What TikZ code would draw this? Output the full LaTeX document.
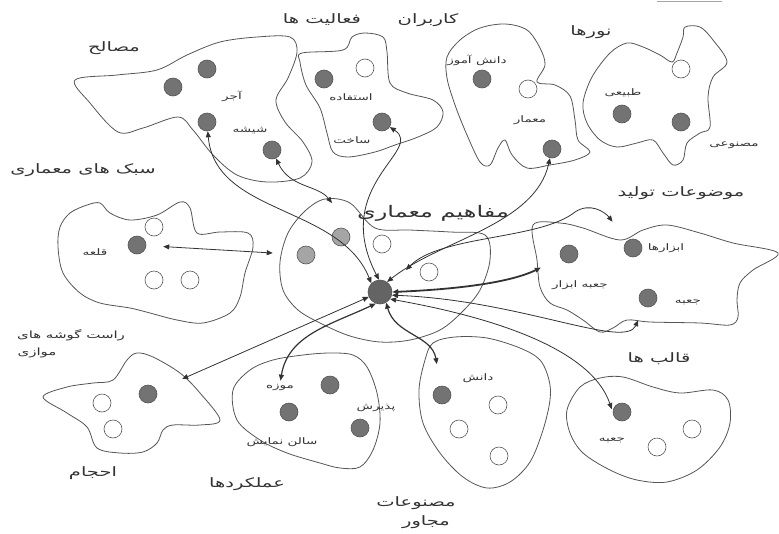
\documentclass[tikz,border=0pt]{standalone}
\usepackage{fontspec}
\usepackage{tikz}
\usetikzlibrary{arrows.meta}
\newfontfamily\farsi[Script=Arabic, FakeStretch=1.5]{DejaVu Sans}
\TeXXeTstate=1
\newcommand{\fa}[1]{{\farsi\beginR #1\endR}}
\definecolor{Gris}{RGB}{115, 115, 115}
\definecolor{GrisClaro}{RGB}{165, 165, 165}
\definecolor{GrisHub}{RGB}{100, 100, 100}
\definecolor{Linea}{RGB}{50, 50, 50}
\definecolor{Borde}{RGB}{85, 85, 85}

\begin{document}
\begin{tikzpicture}[x=1pt, y=-1pt,
    blob/.style={draw=Borde, line width=0.8pt},
    lleno/.style={circle, draw=Borde, fill=Gris, minimum size=18pt, inner sep=0pt, line width=0.6pt},
    claro/.style={lleno, fill=GrisClaro},
    vacio/.style={lleno, fill=white},
    chico/.style={font=\fontsize{9}{10}\selectfont, text=Linea, inner sep=1pt},
    grupo/.style={font=\fontsize{13}{14}\selectfont, text=Linea, inner sep=1pt},
    enlace/.style={draw=Linea, line width=0.8pt, {Triangle[length=6pt,width=5pt]}-{Triangle[length=6pt,width=5pt]}},
    medio/.style={enlace, line width=1.2pt},
    grueso/.style={enlace, line width=1.8pt}
  ]
  \useasboundingbox (0,0) rectangle (779,533);
  \draw[GrisClaro, line width=1pt] (657,1) -- (722,1);

  %Contornos
  \draw[blob] plot[smooth cycle, tension=0.55] coordinates {(75,80) (117,75) (157,70) (187,55) (220,42) (257,37) (290,37) (297,52) (288,78) (276,100) (285,122) (303,142) (312,162) (300,178) (267,182) (237,175) (213,155) (193,130) (178,117) (143,128) (118,132) (90,103)};
  \draw[blob] plot[smooth cycle, tension=0.55] coordinates {(302,53) (343,50) (352,37) (365,33) (383,37) (387,52) (390,83) (407,93) (433,100) (443,112) (437,127) (418,137) (395,145) (375,152) (348,157) (333,152) (327,133) (320,108) (306,85) (300,62)};
  \draw[blob] plot[smooth cycle, tension=0.55] coordinates {(447,57) (460,40) (480,28) (505,24) (527,30) (540,48) (545,65) (537,82) (555,85) (570,96) (575,120) (578,140) (590,152) (575,160) (550,165) (527,168) (512,155) (505,140) (498,148) (490,165) (480,162) (467,135) (455,105) (447,78)};
  \draw[blob] plot[smooth cycle, tension=0.55] coordinates {(685,27) (700,27) (713,40) (727,62) (713,77) (708,97) (710,127) (700,133) (687,143) (683,160) (673,165) (663,153) (653,140) (637,143) (617,147) (600,140) (587,123) (583,103) (592,77) (610,53) (627,43) (643,47) (660,55) (672,62) (677,53) (683,37)};
  \draw[blob] plot[smooth cycle, tension=0.55] coordinates {(60,227) (70,213) (87,205) (100,203) (110,213) (130,220) (157,215) (180,202) (190,208) (197,233) (220,232) (248,233) (253,247) (245,273) (240,297) (230,313) (203,323) (177,320) (150,313) (130,308) (100,303) (80,293) (63,273) (58,247)};
  \draw[blob] plot[smooth cycle, tension=0.55] coordinates {(283,290) (280,262) (288,233) (305,211) (325,199) (350,203) (375,228) (410,230) (450,232) (485,235) (490,260) (480,290) (462,312) (440,330) (410,340) (380,342) (350,336) (322,324) (298,310)};
  \draw[blob] plot[smooth cycle, tension=0.55] coordinates {(533,225) (560,223) (583,228) (620,240) (643,230) (667,225) (700,233) (733,243) (778,253) (753,270) (740,283) (737,300) (738,317) (730,325) (700,323) (650,322) (627,320) (613,328) (600,332) (583,320) (567,310) (550,303) (540,287) (537,260)};
  \draw[blob] plot[smooth cycle, tension=0.55] coordinates {(567,410) (580,387) (600,378) (623,377) (653,387) (680,393) (713,390) (728,400) (730,423) (720,447) (697,470) (667,482) (637,480) (610,470) (583,453) (570,433)};
  \draw[blob] plot[smooth cycle, tension=0.55] coordinates {(43,397) (67,387) (93,383) (113,380) (127,360) (137,353) (153,357) (180,373) (200,393) (220,420) (200,425) (173,425) (163,430) (157,443) (143,452) (120,453) (97,448) (87,427) (67,413)};
  \draw[blob] plot[smooth cycle, tension=0.55] coordinates {(233,390) (250,370) (273,360) (303,355) (330,353) (353,355) (367,367) (377,393) (380,423) (373,450) (360,467) (340,468) (320,463) (287,453) (260,440) (237,420)};
  \draw[blob] plot[smooth cycle, tension=0.55] coordinates {(433,343) (455,337) (487,338) (520,348) (540,360) (549,380) (550,400) (543,430) (530,462) (510,482) (487,488) (463,477) (440,453) (423,423) (419,390) (425,360)};

  %Puntos
  \node[lleno] (M1) at (207,69) {};
  \node[lleno] (M2) at (173,87) {};
  \node[lleno] (M3) at (207,122) {};
  \node[lleno] (M4) at (272,150) {};
  \node[lleno] (A1) at (324,79) {};
  \node[vacio] (A2) at (365,68) {};
  \node[lleno] (A3) at (382,122) {};
  \node[lleno] (U1) at (482,79) {};
  \node[vacio] (U2) at (528,89) {};
  \node[lleno] (U3) at (552,149) {};
  \node[vacio] (L1) at (681,69) {};
  \node[lleno] (L2) at (622,114) {};
  \node[lleno] (L3) at (681,122) {};
  \node[vacio] (S1) at (154,227) {};
  \node[lleno] (S2) at (137,245) {};
  \node[vacio] (S3) at (154,280) {};
  \node[vacio] (S4) at (190,280) {};
  \node[claro] (C1) at (341,237) {};
  \node[claro] (C2) at (306,255) {};
  \node[vacio] (C3) at (382,244) {};
  \node[vacio] (C4) at (429,272) {};
  \node[lleno, fill=GrisHub, minimum size=24pt] (H) at (380,292) {};
  \coordinate (Ctop) at (332,203);
  \node[lleno] (T1) at (569,254) {};
  \node[lleno] (T2) at (633,248) {};
  \node[lleno] (T3) at (648,298) {};
  \node[lleno] (F1) at (622,412) {};
  \node[vacio] (F2) at (692,429) {};
  \node[vacio] (F3) at (657,447) {};
  \node[lleno] (V1) at (148,394) {};
  \node[vacio] (V2) at (102,403) {};
  \node[vacio] (V3) at (113,429) {};
  \node[lleno] (K1) at (330,385) {};
  \node[lleno] (K2) at (289,412) {};
  \node[lleno] (K3) at (360,428) {};
  \node[lleno] (D1) at (442,395) {};
  \node[vacio] (D2) at (498,405) {};
  \node[vacio] (D3) at (459,429) {};
  \node[vacio] (D4) at (499,456) {};

  %Textos
  \node[grupo] (g1) at (114,48) {\fa{مصالح}};
  \node[grupo] (g2) at (322,20) {\fa{فعالیت ها}};
  \node[grupo] (g3) at (428,20) {\fa{کاربران}};
  \node[grupo] (g4) at (591,32) {\fa{نورها}};
  \node[chico] (g5) at (734,145) {\fa{مصنوعی}};
  \node[grupo] (g6) at (83,170) {\fa{سبک های معماری}};
  \node[grupo, font=\fontsize{16}{17}\selectfont] (g7) at (433,213) {\fa{مفاهیم معماری}};
  \node[grupo] (g8) at (681,193) {\fa{موضوعات تولید}};
  \node[chico, font=\fontsize{10}{11}\selectfont] (g9a) at (71,335) {\fa{راست گوشه های}};
  \node[chico, font=\fontsize{10}{11}\selectfont] (g9b) at (37,353) {\fa{موازی}};
  \node[grupo] (g10) at (93,473) {\fa{احجام}};
  \node[grupo] (g11) at (247,484) {\fa{عملکردها}};
  \node[grupo] (g12a) at (416,503) {\fa{مصنوعات}};
  \node[grupo] (g12b) at (426,522) {\fa{مجاور}};
  \node[grupo] (g13) at (659,359) {\fa{قالب ها}};
  \node[chico] (l1) at (232,96) {\fa{آجر}};
  \node[chico] (l2) at (250,131) {\fa{شیشه}};
  \node[chico] (l3) at (351,97) {\fa{استفاده}};
  \node[chico] (l4) at (352,140) {\fa{ساخت}};
  \node[chico] (l5) at (477,60) {\fa{دانش آموز}};
  \node[chico] (l6) at (530,120) {\fa{معمار}};
  \node[chico] (l7) at (623,93) {\fa{طبیعی}};
  \node[chico] (l8) at (95,252) {\fa{قلعه}};
  \node[chico] (l9) at (666,248) {\fa{ابزارها}};
  \node[chico] (l10) at (580,285) {\fa{جعبه ابزار}};
  \node[chico] (l11) at (688,302) {\fa{جعبه}};
  \node[chico] (l12) at (612,440) {\fa{جعبه}};
  \node[chico] (l13) at (280,388) {\fa{موزه}};
  \node[chico] (l14) at (376,408) {\fa{پذیرش}};
  \node[chico] (l15) at (282,442) {\fa{سالن نمایش}};
  \node[chico] (l16) at (478,378) {\fa{دانش}};

  %Flechas
  \draw[enlace] (M3) .. controls (215,215) and (340,205) .. (H.135);
  \draw[enlace] (M4) .. controls (290,188) and (318,185) .. (Ctop);
  \draw[enlace] (A3) .. controls (425,150) and (330,185) .. (H.95);
  \draw[enlace] (U3) .. controls (535,225) and (440,240) .. (H.55);
  \draw[enlace, shorten <=22pt, shorten >=24pt] (H.30) .. controls (440,235) and (540,240) .. (575,212) .. controls (590,202) and (605,212) .. (T2);
  \draw[grueso, shorten >=22pt] (H.east) .. controls (440,290) and (505,285) .. (T1);
  \draw[enlace, shorten >=15pt] (H.-15) .. controls (520,300) and (625,350) .. (T3);
  \draw[enlace, shorten >=3pt] (H.-35) .. controls (480,315) and (590,345) .. (F1.west);
  \draw[medio, shorten >=22pt] (H.-60) .. controls (395,335) and (432,335) .. (D1);
  \draw[medio, shorten >=3pt] (H.-110) .. controls (330,325) and (288,335) .. (l13.north);
  \draw[enlace, shorten >=28pt] (H) -- (V1);
  \draw[enlace, shorten <=17pt, shorten >=24pt] (S2) -- (C2);
\end{tikzpicture}
\end{document}
